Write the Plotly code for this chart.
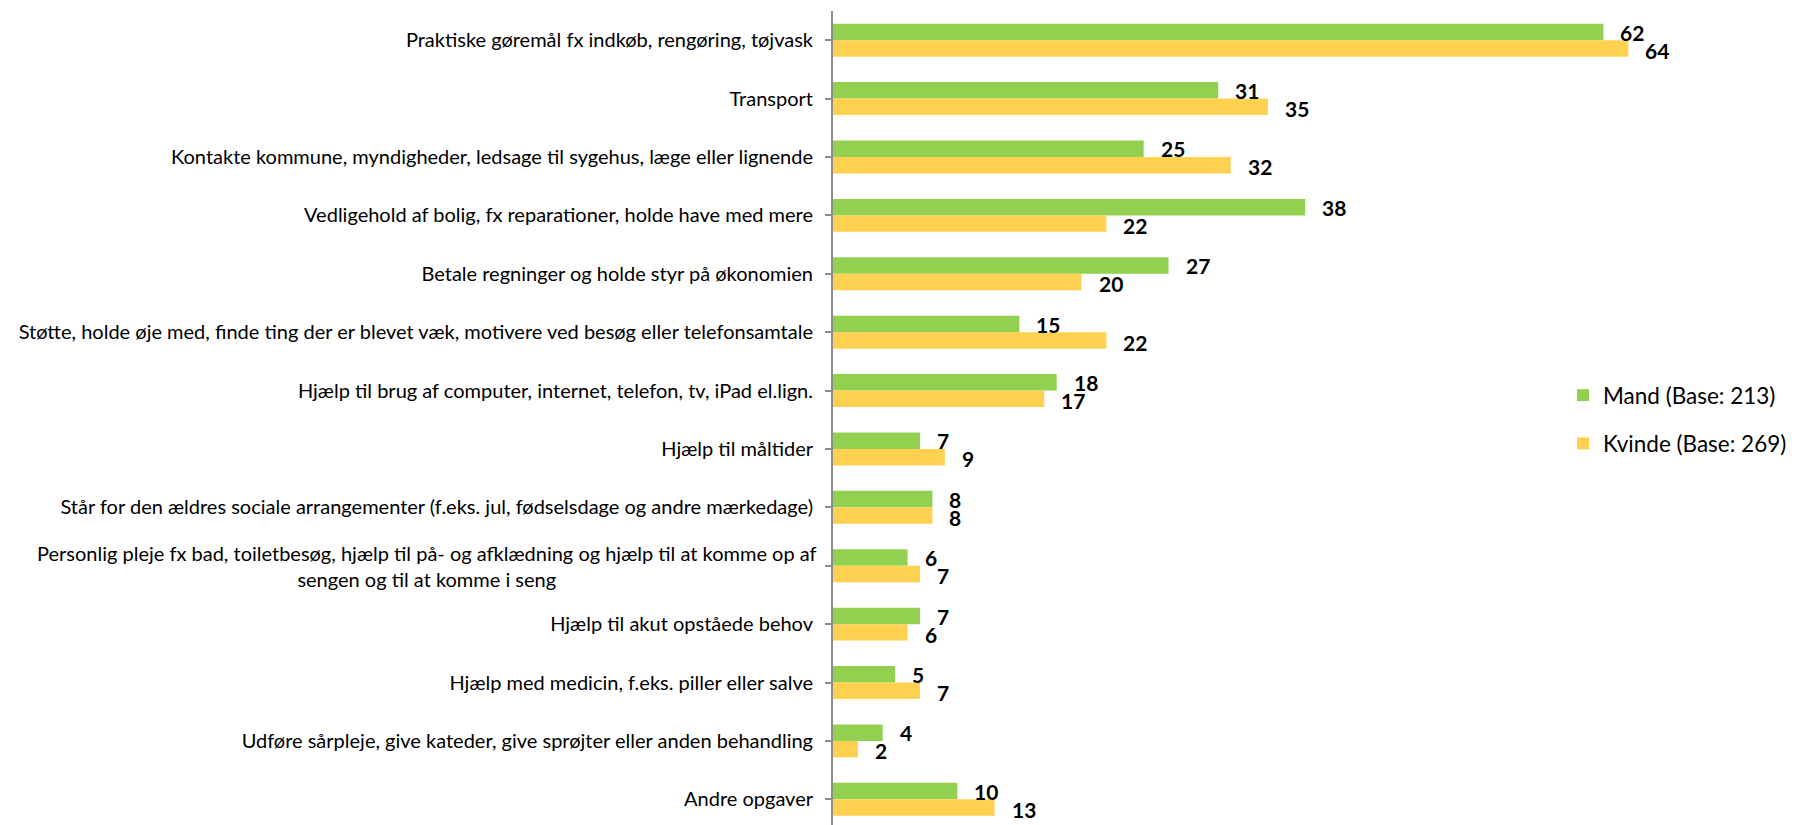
import plotly.graph_objects as go

categories = [
    "Praktiske gøremål fx indkøb, rengøring, tøjvask",
    "Transport",
    "Kontakte kommune, myndigheder, ledsage til sygehus, læge eller lignende",
    "Vedligehold af bolig, fx reparationer, holde have med mere",
    "Betale regninger og holde styr på økonomien",
    "Støtte, holde øje med, finde ting der er blevet væk, motivere ved besøg eller telefonsamtale",
    "Hjælp til brug af computer, internet, telefon, tv, iPad el.lign.",
    "Hjælp til måltider",
    "Står for den ældres sociale arrangementer (f.eks. jul, fødselsdage og andre mærkedage)",
    "Personlig pleje fx bad, toiletbesøg, hjælp til på- og afklædning og hjælp til at komme op af<br>sengen og til at komme i seng",
    "Hjælp til akut opståede behov",
    "Hjælp med medicin, f.eks. piller eller salve",
    "Udføre sårpleje, give kateder, give sprøjter eller anden behandling",
    "Andre opgaver",
]
mand = [62, 31, 25, 38, 27, 15, 18, 7, 8, 6, 7, 5, 4, 10]
kvinde = [64, 35, 32, 22, 20, 22, 17, 9, 8, 7, 6, 7, 2, 13]
series_names = ["Mand (Base: 213)", "Kvinde (Base: 269)"]
colors = ["#92D050", "#FFD150"]

FONT = "Lato"
# page has an 8px body margin: shrink figure so it fits the 1800x825 window
W, H = 1792, 817
ML, MR, MT, MB = 825, 35, 3, 0
XMAX = 75
PLOT_W = W - ML - MR
PLOT_H = H - MT - MB

ids = list(range(len(categories)))
ticktext = [c if "<br>" not in c else "" for c in categories]

fig = go.Figure()
for name, vals, col, grp in zip(series_names, [mand, kvinde], colors, ["a", "b"]):
    fig.add_trace(go.Bar(
        y=ids, x=vals, orientation="h", name=name,
        marker=dict(color=col, line=dict(width=0)),
        legendgroup=grp, hoverinfo="x+name",
    ))

annotations = []
for vals, ys in [(mand, 8), (kvinde, -10)]:
    for i, v in enumerate(vals):
        annotations.append(dict(
            x=v, y=i, xref="x", yref="y", text=str(v), showarrow=False,
            xanchor="left", yanchor="middle", xshift=15, yshift=ys,
            font=dict(family=FONT, size=21, color="black", weight="bold"),
        ))
for i, c in enumerate(categories):
    if "<br>" in c:
        annotations.append(dict(
            x=0, y=i, xref="paper", yref="y", text=c, showarrow=False,
            xanchor="right", yanchor="middle", align="center", xshift=-14,
            font=dict(family=FONT, size=20, color="black"),
        ))

fig.update_layout(
    width=W, height=H,
    margin=dict(l=ML, r=MR, t=MT, b=MB, pad=0),
    paper_bgcolor="white", plot_bgcolor="white",
    barmode="group", bargap=0.435, bargroupgap=0,
    font=dict(family=FONT, size=20, color="black"),
    xaxis=dict(range=[0, XMAX], visible=False, showgrid=False, zeroline=False),
    yaxis=dict(
        tickmode="array", tickvals=ids, ticktext=ticktext,
        range=[13.44, -0.5], showgrid=False, zeroline=False,
        showline=True, linecolor="#8C8C8C", linewidth=2,
        ticks="outside", ticklen=6, tickcolor="#8C8C8C", tickwidth=2,
        tickson="boundaries", ticklabelstandoff=8,
        tickfont=dict(family=FONT, size=20, color="black"),
    ),
    legend=dict(
        x=(1555 - ML) / PLOT_W, y=1 - (366 - MT) / PLOT_H,
        xanchor="left", yanchor="top", traceorder="grouped",
        tracegroupgap=16, font=dict(family=FONT, size=22.5, color="black"),
        bgcolor="rgba(0,0,0,0)",
    ),
    annotations=annotations,
)

fig.write_html("out.html")
